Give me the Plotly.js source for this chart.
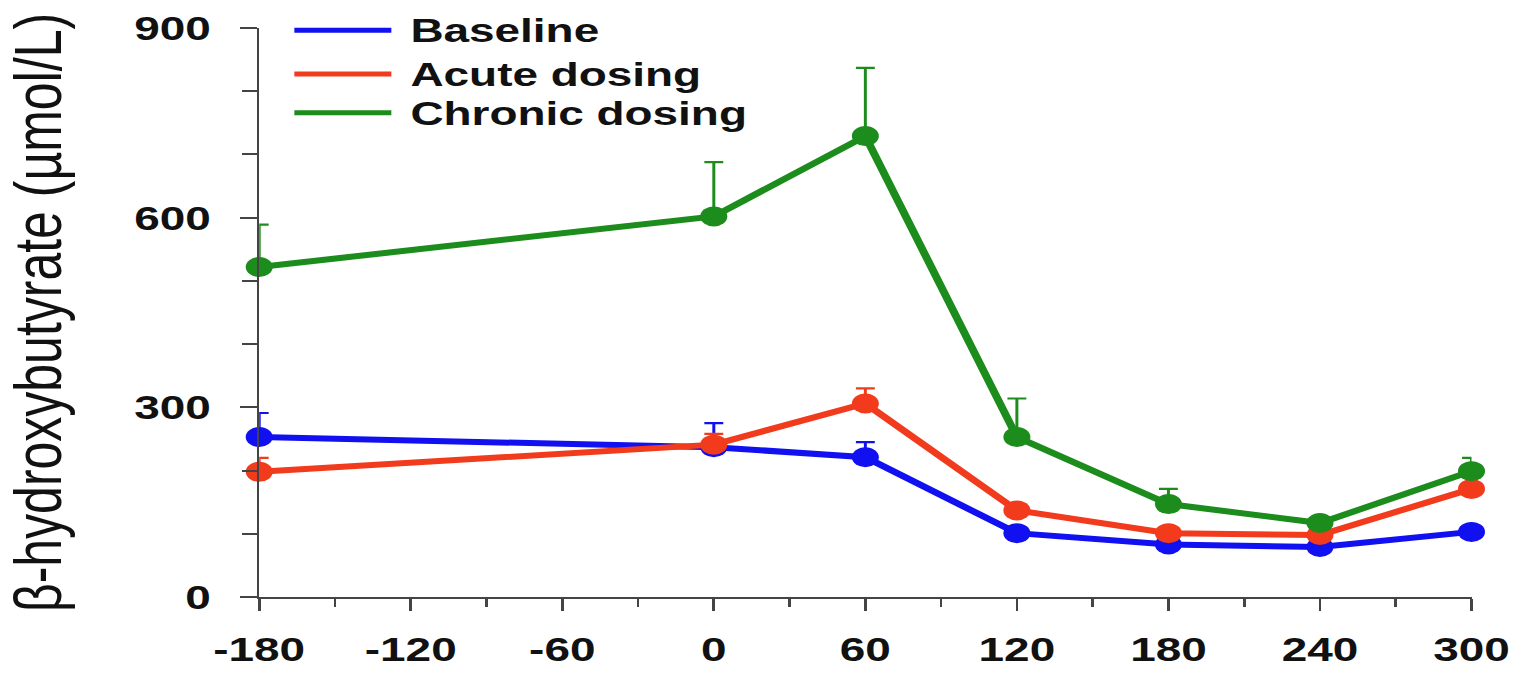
<!DOCTYPE html>
<html>
<head>
<meta charset="utf-8">
<script src="https://cdn.plot.ly/plotly-3.0.1.min.js"></script>
<style>
  html, body { margin: 0; padding: 0; background: #fff; overflow: hidden; }
  #wrap { width: 1520px; height: 673px; overflow: hidden; }
  /* the figure is laid out narrow and widened horizontally */
  #chart { width: 1126px; height: 673px; transform: scaleX(1.35); transform-origin: 0 0; }
</style>
</head>
<body>
<div id="wrap"><div id="chart"></div></div>
<script>
// Time relative to dosing (min)
const minutes = [-180, 0, 60, 120, 180, 240, 300];

// Plasma beta-hydroxybutyrate, mean and upper SEM (umol/L)
const baseline    = [253, 237, 221, 101, 83, 79, 103];
const baselineSem = [38, 38, 24, 4, 4, 4, 4];
const acute       = [198, 241, 306, 137, 101, 98, 171];
const acuteSem    = [22, 17, 24, 5, 5, 5, 5];
const chronic     = [522, 602, 729, 253, 147, 117, 199];
const chronicSem  = [67, 86, 108, 61, 24, 5, 21];

const seriesNames = ['Baseline', 'Acute dosing', 'Chronic dosing'];
const seriesColors = ['#1010f0', '#f23a1c', '#1c8c1c'];

const xTickVals = [-180, -120, -60, 0, 60, 120, 180, 240, 300];
const yTickVals = [0, 300, 600, 900];

const FONT = 'Liberation Sans, Arial, sans-serif';
const AXIS = '#444';

function series(y, sem, i) {
  return {
    x: minutes, y: y, name: seriesNames[i],
    type: 'scatter', mode: 'lines+markers', cliponaxis: false, showlegend: false,
    line: { color: seriesColors[i], width: 6 },
    marker: { color: seriesColors[i], size: 20 },
    error_y: {
      type: 'data', symmetric: false, array: sem, arrayminus: sem.map(() => 0),
      color: seriesColors[i], thickness: 2.2, width: 7
    }
  };
}

const traces = [
  series(baseline, baselineSem, 0),
  series(acute, acuteSem, 1),
  series(chronic, chronicSem, 2)
];

// key in the upper left: a line and a label per series
const keyRows = [0.996, 0.919, 0.851];
const shapes = seriesNames.map((n, i) => ({
  type: 'line', xref: 'paper', yref: 'paper',
  x0: 0.029, x1: 0.109, y0: keyRows[i], y1: keyRows[i],
  line: { color: seriesColors[i], width: 5 }
}));
const annotations = seriesNames.map((n, i) => ({
  text: n, xref: 'paper', yref: 'paper', x: 0.122, y: keyRows[i],
  xanchor: 'left', yanchor: 'middle', showarrow: false,
  font: { family: FONT, size: 34, weight: 'bold', color: '#111' }
}));

const layout = {
  width: 1126, height: 673,
  margin: { l: 192, r: 36, t: 28, b: 76 },
  paper_bgcolor: '#fff', plot_bgcolor: '#fff',
  font: { family: FONT, color: '#111' },
  showlegend: false,
  xaxis: {
    range: [-180, 300], tickvals: xTickVals, ticktext: xTickVals.map(String),
    ticks: 'outside', ticklen: 12, tickwidth: 2, tickcolor: AXIS,
    showline: true, linecolor: AXIS, linewidth: 2,
    showgrid: false, zeroline: false, automargin: false, fixedrange: true,
    ticklabelstandoff: 9,
    tickfont: { family: FONT, size: 34, weight: 'bold', color: '#111' },
    minor: { dtick: 30, tick0: -180, ticks: 'outside', ticklen: 8, tickwidth: 2, tickcolor: AXIS, showgrid: false }
  },
  yaxis: {
    range: [0, 900], tickvals: yTickVals, ticktext: yTickVals.map(String),
    ticks: 'outside', ticklen: 12, tickwidth: 2, tickcolor: AXIS,
    showline: true, linecolor: AXIS, linewidth: 2,
    showgrid: false, zeroline: false, automargin: false, fixedrange: true,
    ticklabelstandoff: 15,
    tickfont: { family: FONT, size: 34, weight: 'bold', color: '#111' },
    minor: { dtick: 100, tick0: 0, ticks: 'outside', ticklen: 11, tickwidth: 2, tickcolor: AXIS, showgrid: false },
    title: {
      text: 'β-hydroxybutyrate (µmol/L)', standoff: 38,
      font: { family: FONT, size: 50, color: '#111' }
    }
  },
  shapes: shapes,
  annotations: annotations
};

Plotly.newPlot('chart', traces, layout, { displayModeBar: false, staticPlot: true });
</script>
</body>
</html>
